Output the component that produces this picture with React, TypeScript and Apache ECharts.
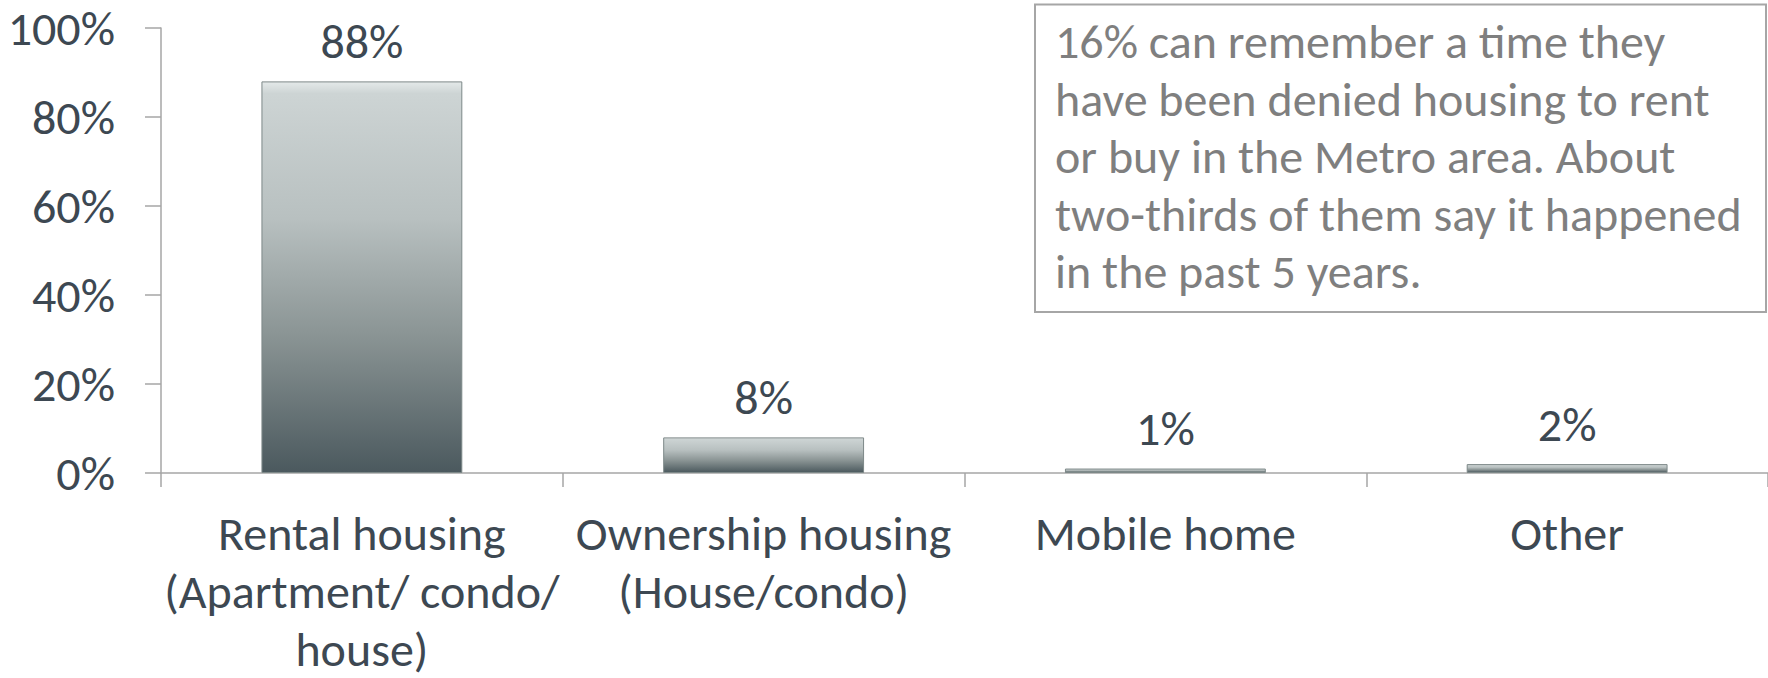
import React, { useEffect, useRef } from "react";
import * as echarts from "echarts";

const categories = [
  "Rental housing\n(Apartment/ condo/\nhouse)",
  "Ownership housing\n(House/condo)",
  "Mobile home",
  "Other",
];
const values = [88, 8, 1, 2];
const yTicks = { min: 0, max: 100, interval: 20 };
const noteLines = [
  "16% can remember a time they",
  "have been denied housing to rent",
  "or buy in the Metro area. About",
  "two-thirds of them say it happened",
  "in the past 5 years.",
];

const FONT = "Carlito, Calibri, Lato, 'Noto Sans', sans-serif";
const DARK = "#3d4852";
const FS = 48;

export default function App() {
  const ref = useRef<HTMLDivElement>(null);
  useEffect(() => {
    document.body.style.margin = "0";
    const chart = echarts.init(ref.current!, undefined, { renderer: "svg" });
    chart.setOption({
      animation: false,
      grid: { left: 161, right: 0, top: 28, bottom: 204 },
      xAxis: {
        type: "category",
        data: categories,
        axisLine: { lineStyle: { color: "#a6a6a6", width: 1.5 } },
        axisTick: { show: true, length: 14, lineStyle: { color: "#a6a6a6", width: 1.5 } },
        axisLabel: {
          color: DARK,
          fontFamily: FONT,
          fontSize: FS,
          lineHeight: 58,
          margin: 31,
          interval: 0,
        },
      },
      yAxis: {
        type: "value",
        min: yTicks.min,
        max: yTicks.max,
        interval: yTicks.interval,
        splitLine: { show: false },
        axisLine: { show: true, lineStyle: { color: "#a6a6a6", width: 1.5 } },
        axisTick: { show: true, length: 16, lineStyle: { color: "#a6a6a6", width: 1.5 } },
        axisLabel: {
          color: DARK,
          fontFamily: FONT,
          fontSize: FS,
          margin: 46,
          formatter: "{value}%",
        },
      },
      series: [
        {
          type: "bar",
          data: values,
          barWidth: "50%",
          itemStyle: {
            color: new echarts.graphic.LinearGradient(0, 0, 0, 1, [
              { offset: 0, color: "#e4e9e9" },
              { offset: 0.03, color: "#cdd4d4" },
              { offset: 0.35, color: "#b8c0c0" },
              { offset: 0.65, color: "#8a9494" },
              { offset: 1, color: "#4b595e" },
            ]),
            borderColor: "#7d8888",
            borderWidth: 1,
          },
          label: {
            show: true,
            position: "top",
            distance: 16,
            color: DARK,
            fontFamily: FONT,
            fontSize: FS,
            formatter: "{c}%",
          },
        },
      ],
      graphic: [
        {
          type: "rect",
          shape: { x: 1035, y: 4.5, width: 731, height: 307.5 },
          style: { fill: "#ffffff", stroke: "#a6a6a6", lineWidth: 2 },
          z: 10,
        },
        {
          type: "text",
          x: 1055,
          y: 13,
          z: 11,
          style: {
            text: noteLines.join("\n"),
            fill: "#7f7f7f",
            fontFamily: FONT,
            fontSize: FS,
            lineHeight: 57.5,
          },
        },
      ],
    });
    return () => chart.dispose();
  }, []);
  return <div ref={ref} style={{ width: 1768, height: 678 }} />;
}
